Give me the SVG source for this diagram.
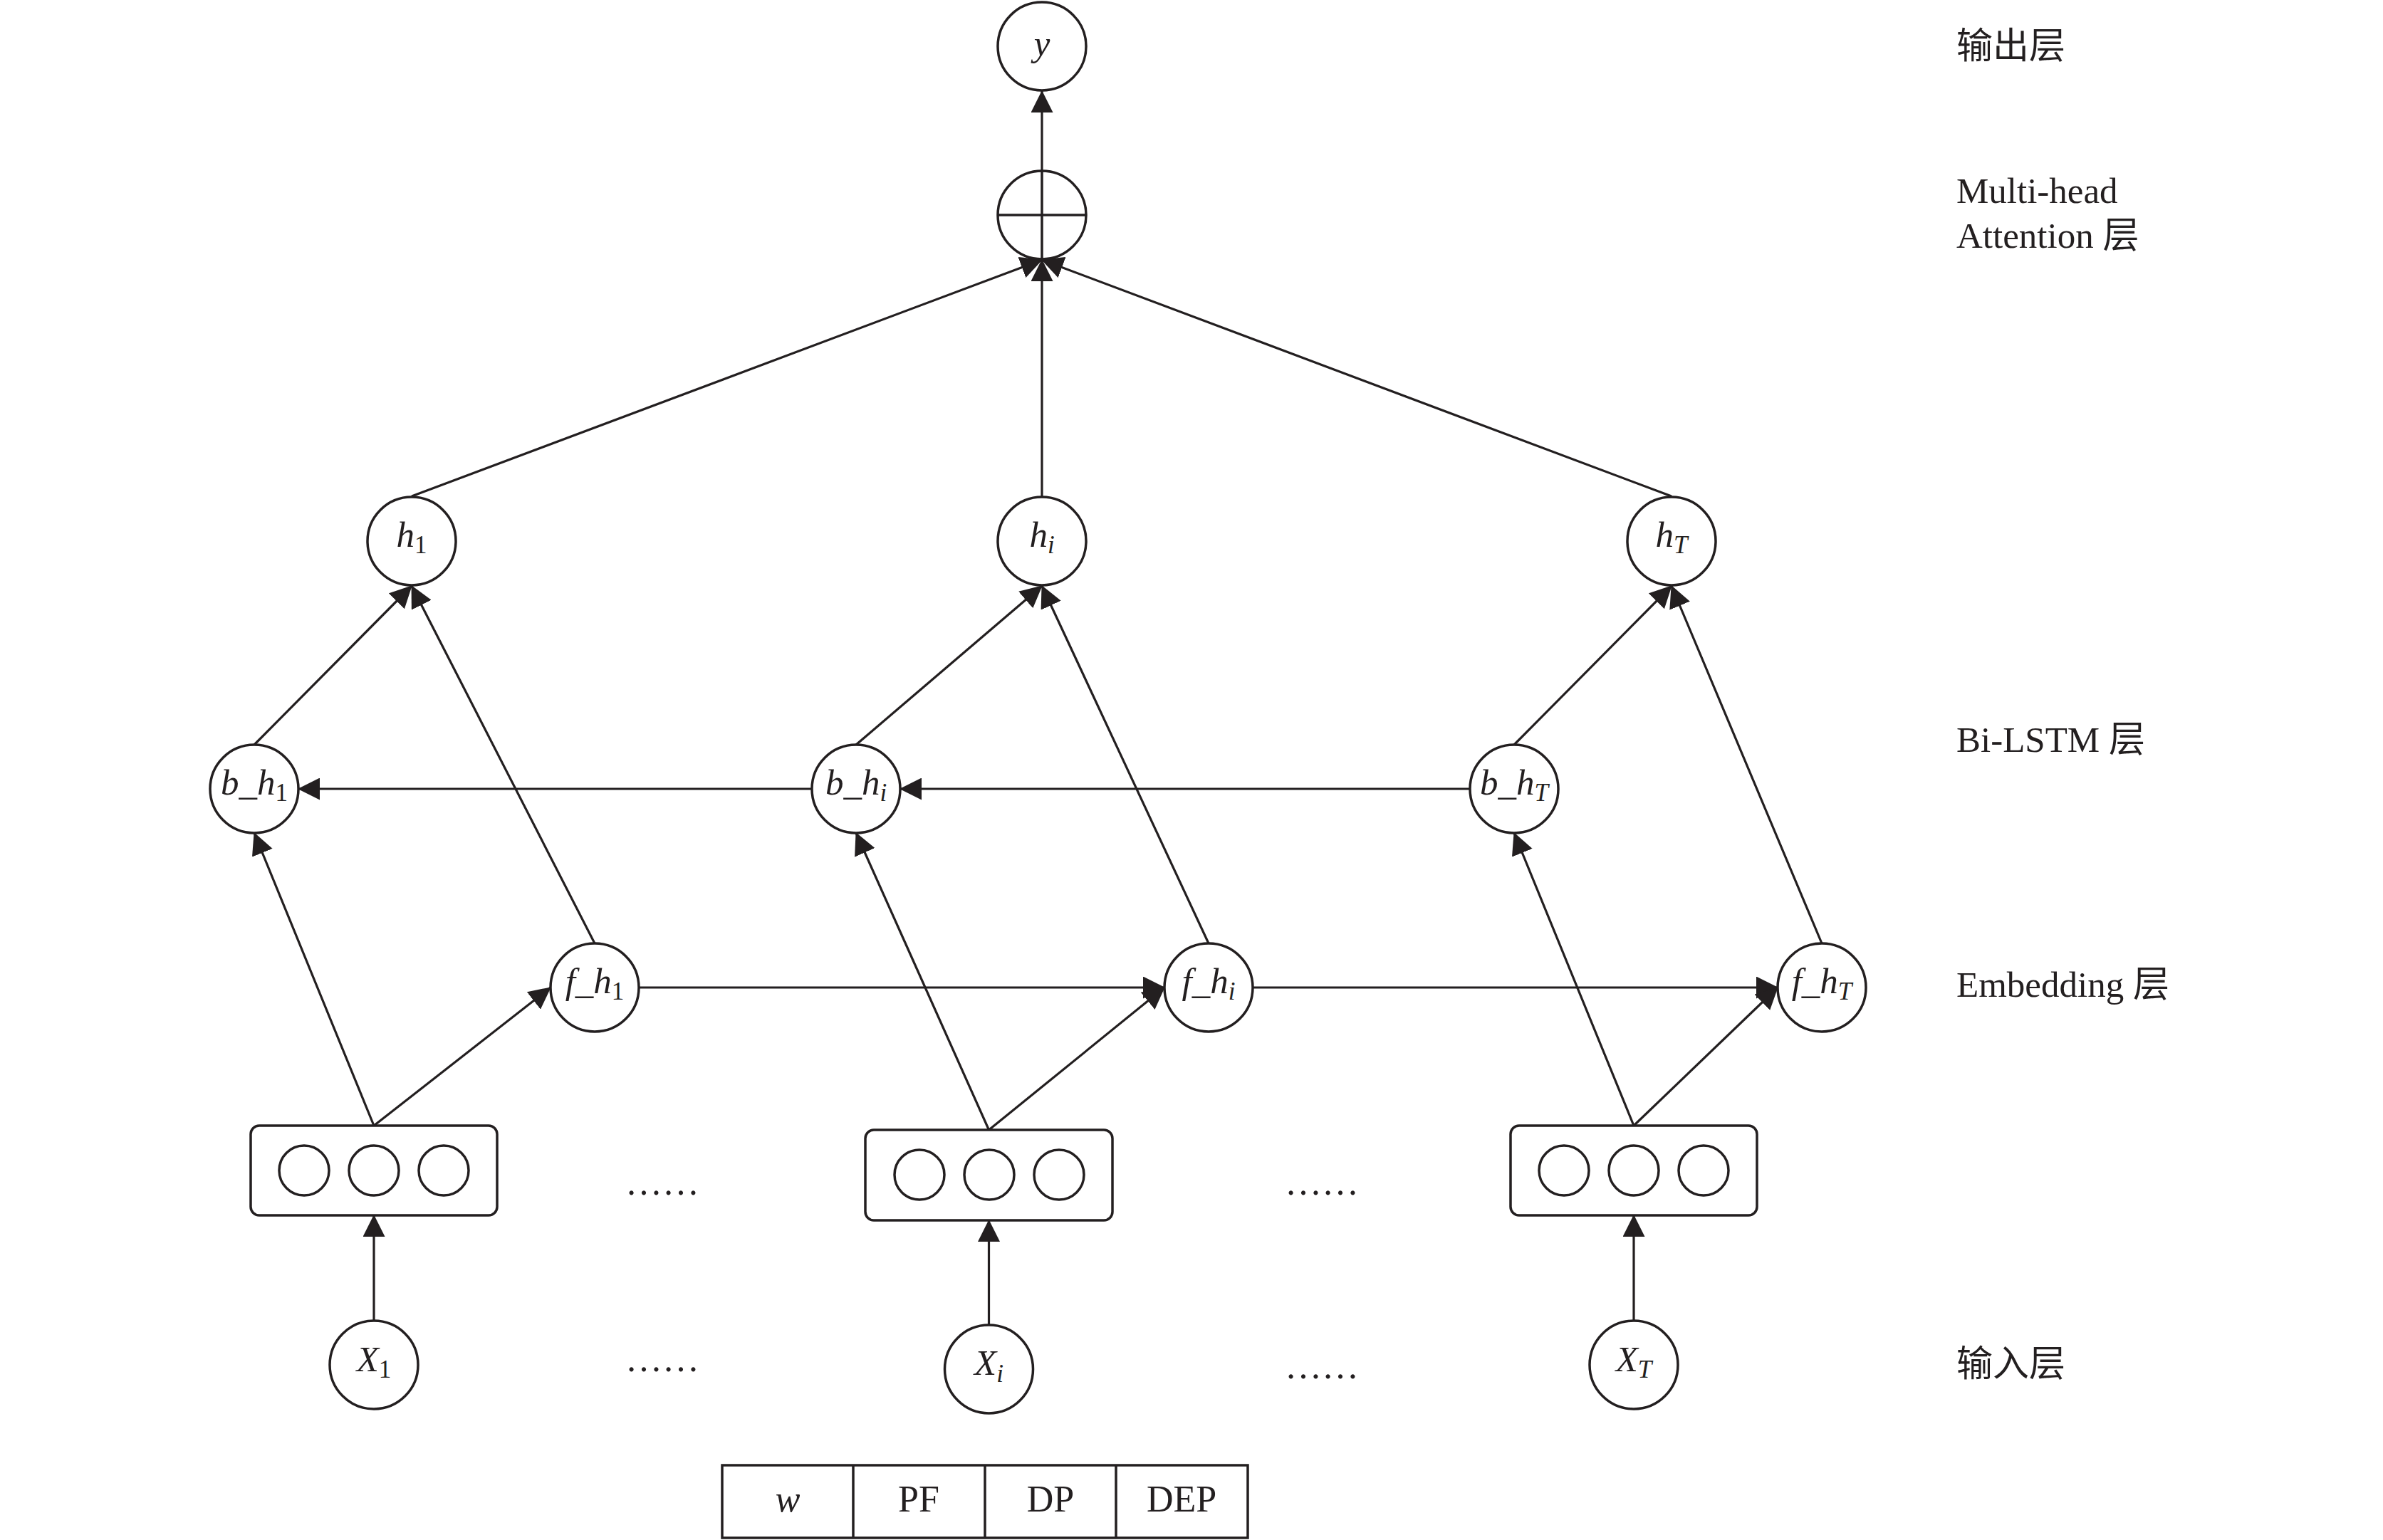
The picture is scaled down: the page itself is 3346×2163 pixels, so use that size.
<svg xmlns="http://www.w3.org/2000/svg" width="3346" height="2163" viewBox="0 0 3346 2163">
<style>
.n{fill:#fff;stroke:#231f20;stroke-width:3.5}
.s{fill:none;stroke:#231f20;stroke-width:3.5}
.c{fill:none;stroke:#231f20;stroke-width:3.2}
.v{font-family:"Liberation Serif",serif;font-size:51px;fill:#231f20;text-anchor:middle}
.i{font-style:italic}
.sb{font-size:35px}
.lab{font-family:"Liberation Serif","Noto Sans CJK SC",serif;font-size:51px;fill:#231f20}
.dots{font-family:"Liberation Serif",serif;font-size:52px;fill:#231f20;text-anchor:middle}
</style>
<defs>
<marker id="ah" markerUnits="userSpaceOnUse" markerWidth="31" markerHeight="31" viewBox="0 0 31 31" refX="30" refY="15.5" orient="auto">
<path d="M0,0 L31,15.5 L0,31 z" fill="#231f20"/>
</marker>
</defs>
<rect width="3346" height="2163" fill="#fff"/>

<g id="connectors" class="c" marker-end="url(#ah)">
<line x1="1463" y1="240" x2="1463" y2="128"/>
<line x1="578" y1="697" x2="1463" y2="365"/>
<line x1="1463" y1="697" x2="1463" y2="365"/>
<line x1="2347" y1="697" x2="1463" y2="365"/>
<line x1="357" y1="1046" x2="578" y2="823"/>
<line x1="835" y1="1325" x2="578" y2="823"/>
<line x1="1202" y1="1046" x2="1463" y2="823"/>
<line x1="1697" y1="1325" x2="1463" y2="823"/>
<line x1="2126" y1="1046" x2="2347" y2="823"/>
<line x1="2558" y1="1325" x2="2347" y2="823"/>
<line x1="1140" y1="1108" x2="419" y2="1108"/>
<line x1="2064" y1="1108" x2="1264" y2="1108"/>
<line x1="897" y1="1387" x2="1635" y2="1387"/>
<line x1="1759" y1="1387" x2="2496" y2="1387"/>
<line x1="525" y1="1581" x2="357" y2="1170"/>
<line x1="525" y1="1581" x2="773" y2="1387"/>
<line x1="1388.5" y1="1587" x2="1202" y2="1170"/>
<line x1="1388.5" y1="1587" x2="1635" y2="1387"/>
<line x1="2294" y1="1581" x2="2126" y2="1170"/>
<line x1="2294" y1="1581" x2="2496" y2="1387"/>
<line x1="525" y1="1855" x2="525" y2="1707"/>
<line x1="1388.5" y1="1861" x2="1388.5" y2="1714"/>
<line x1="2294" y1="1855" x2="2294" y2="1707"/>
</g>

<g id="node-y"><circle class="n" cx="1463" cy="65" r="62"/><text class="v i" x="1463" y="78">y</text></g>
<g id="node-attention"><circle class="n" cx="1463" cy="302" r="62"/><line class="s" x1="1401" y1="302" x2="1525" y2="302"/><line class="s" x1="1463" y1="240" x2="1463" y2="364"/></g>

<g id="node-h1"><circle class="n" cx="578" cy="760" r="62"/><text class="v" x="578" y="768"><tspan class="i">h</tspan><tspan class="sb" dy="9">1</tspan></text></g>
<g id="node-hi"><circle class="n" cx="1463" cy="760" r="62"/><text class="v" x="1463" y="768"><tspan class="i">h</tspan><tspan class="sb i" dy="9">i</tspan></text></g>
<g id="node-hT"><circle class="n" cx="2347" cy="760" r="62"/><text class="v" x="2347" y="768"><tspan class="i">h</tspan><tspan class="sb i" dy="9">T</tspan></text></g>

<g id="node-b_h1"><circle class="n" cx="357" cy="1108" r="62"/><text class="v" x="357" y="1116"><tspan class="i">b_h</tspan><tspan class="sb" dy="9">1</tspan></text></g>
<g id="node-b_hi"><circle class="n" cx="1202" cy="1108" r="62"/><text class="v" x="1202" y="1116"><tspan class="i">b_h</tspan><tspan class="sb i" dy="9">i</tspan></text></g>
<g id="node-b_hT"><circle class="n" cx="2126" cy="1108" r="62"/><text class="v" x="2126" y="1116"><tspan class="i">b_h</tspan><tspan class="sb i" dy="9">T</tspan></text></g>

<g id="node-f_h1"><circle class="n" cx="835" cy="1387" r="62"/><text class="v" x="835" y="1395"><tspan class="i">f_h</tspan><tspan class="sb" dy="9">1</tspan></text></g>
<g id="node-f_hi"><circle class="n" cx="1697" cy="1387" r="62"/><text class="v" x="1697" y="1395"><tspan class="i">f_h</tspan><tspan class="sb i" dy="9">i</tspan></text></g>
<g id="node-f_hT"><circle class="n" cx="2558" cy="1387" r="62"/><text class="v" x="2558" y="1395"><tspan class="i">f_h</tspan><tspan class="sb i" dy="9">T</tspan></text></g>

<g id="node-emb1"><rect class="n" x="352" y="1581" width="346" height="126" rx="12"/><circle class="s" cx="427" cy="1644" r="35"/><circle class="s" cx="525" cy="1644" r="35"/><circle class="s" cx="623" cy="1644" r="35"/></g>
<g id="node-emb2"><rect class="n" x="1215" y="1587" width="347" height="127" rx="12"/><circle class="s" cx="1291" cy="1650" r="35"/><circle class="s" cx="1389" cy="1650" r="35"/><circle class="s" cx="1487" cy="1650" r="35"/></g>
<g id="node-emb3"><rect class="n" x="2121" y="1581" width="346" height="126" rx="12"/><circle class="s" cx="2196" cy="1644" r="35"/><circle class="s" cx="2294" cy="1644" r="35"/><circle class="s" cx="2392" cy="1644" r="35"/></g>

<g id="node-X1"><circle class="n" cx="525" cy="1917" r="62"/><text class="v" x="525" y="1926"><tspan class="i">X</tspan><tspan class="sb" dy="9">1</tspan></text></g>
<g id="node-Xi"><circle class="n" cx="1388.5" cy="1923" r="62"/><text class="v" x="1388.5" y="1931"><tspan class="i">X</tspan><tspan class="sb i" dy="10">i</tspan></text></g>
<g id="node-XT"><circle class="n" cx="2294" cy="1917" r="62"/><text class="v" x="2294" y="1926"><tspan class="i">X</tspan><tspan class="sb i" dy="9">T</tspan></text></g>

<g id="dots">
<text class="dots" x="930" y="1678">……</text>
<text class="dots" x="930" y="1926">……</text>
<text class="dots" x="1856" y="1678">……</text>
<text class="dots" x="1856" y="1936">……</text>
</g>

<g id="feature-table">
<rect class="s" x="1014" y="2058" width="738" height="102"/>
<line class="s" x1="1198" y1="2058" x2="1198" y2="2160"/>
<line class="s" x1="1383" y1="2058" x2="1383" y2="2160"/>
<line class="s" x1="1567" y1="2058" x2="1567" y2="2160"/>
<text class="v i" x="1106" y="2123" style="font-size:52px">w</text>
<text class="v" x="1290" y="2123" style="font-size:52px">PF</text>
<text class="v" x="1475" y="2123" style="font-size:52px">DP</text>
<text class="v" x="1659" y="2123" style="font-size:52px">DEP</text>
</g>

<g id="layer-labels">
<text class="lab" x="2747" y="82">输出层</text>
<text class="lab" x="2747" y="285">Multi-head</text>
<text class="lab" x="2747" y="348">Attention 层</text>
<text class="lab" x="2747" y="1056">Bi-LSTM 层</text>
<text class="lab" x="2747" y="1400">Embedding 层</text>
<text class="lab" x="2747" y="1933">输入层</text>
</g>
</svg>
